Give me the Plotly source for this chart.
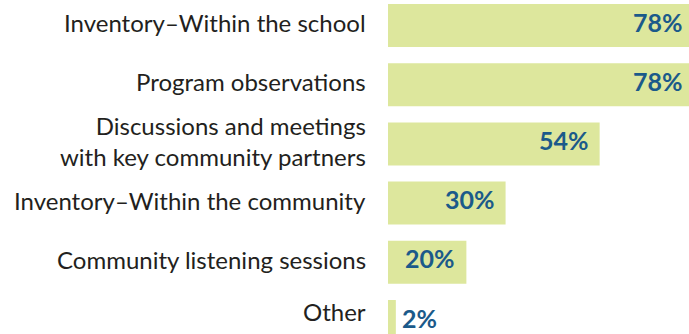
import plotly.graph_objects as go

categories = [
    "Inventory–Within the school",
    "Program observations",
    "Discussions and meetings<br>with key community partners",
    "Inventory–Within the community",
    "Community listening sessions",
    "Other",
]
values = [78, 78, 54, 30, 20, 2]
value_labels = ["78%", "78%", "54%", "30%", "20%", "2%"]

BAR_COLOR = "#dde79d"
VALUE_COLOR = "#1b5a8a"
LABEL_COLOR = "#231f20"
X_MAX = 76.8

fig = go.Figure()
fig.add_trace(go.Bar(
    x=values,
    y=list(range(len(categories))),
    orientation="h",
    width=0.726,
    marker=dict(color=BAR_COLOR, line=dict(width=0)),
    hoverinfo="skip",
))

annotations = []
for i, (cat, v, lab) in enumerate(zip(categories, values, value_labels)):
    # category label to the left of the plot area
    annotations.append(dict(
        x=0, xref="paper", xanchor="right", xshift=-20,
        y=i, yref="y", yanchor="middle", yshift=(10 if cat == "Other" else 3),
        text=cat, showarrow=False, align="right",
        font=dict(family="Lato", size=24, color=LABEL_COLOR),
    ))
    # value label: inside the bar end when it fits, otherwise just past it;
    # bars running past the visible range keep their label at the edge
    inside = v >= 10
    clipped = v > X_MAX
    annotations.append(dict(
        x=min(v, X_MAX), xref="x", xanchor="right" if inside else "left",
        xshift=(-4 if clipped else -9) if inside else 4,
        y=i, yref="y", yanchor="middle", yshift=4,
        text=f"<b>{lab}</b>", showarrow=False,
        font=dict(family="Lato", size=25, color=VALUE_COLOR),
    ))

fig.update_layout(
    width=689, height=334,
    margin=dict(l=388, r=0, t=0, b=0),
    paper_bgcolor="white", plot_bgcolor="white",
    showlegend=False,
    xaxis=dict(range=[0, X_MAX], visible=False, fixedrange=True),
    yaxis=dict(range=[5.211, -0.431], visible=False, fixedrange=True),
    annotations=annotations,
)

fig.write_html("out.html")
